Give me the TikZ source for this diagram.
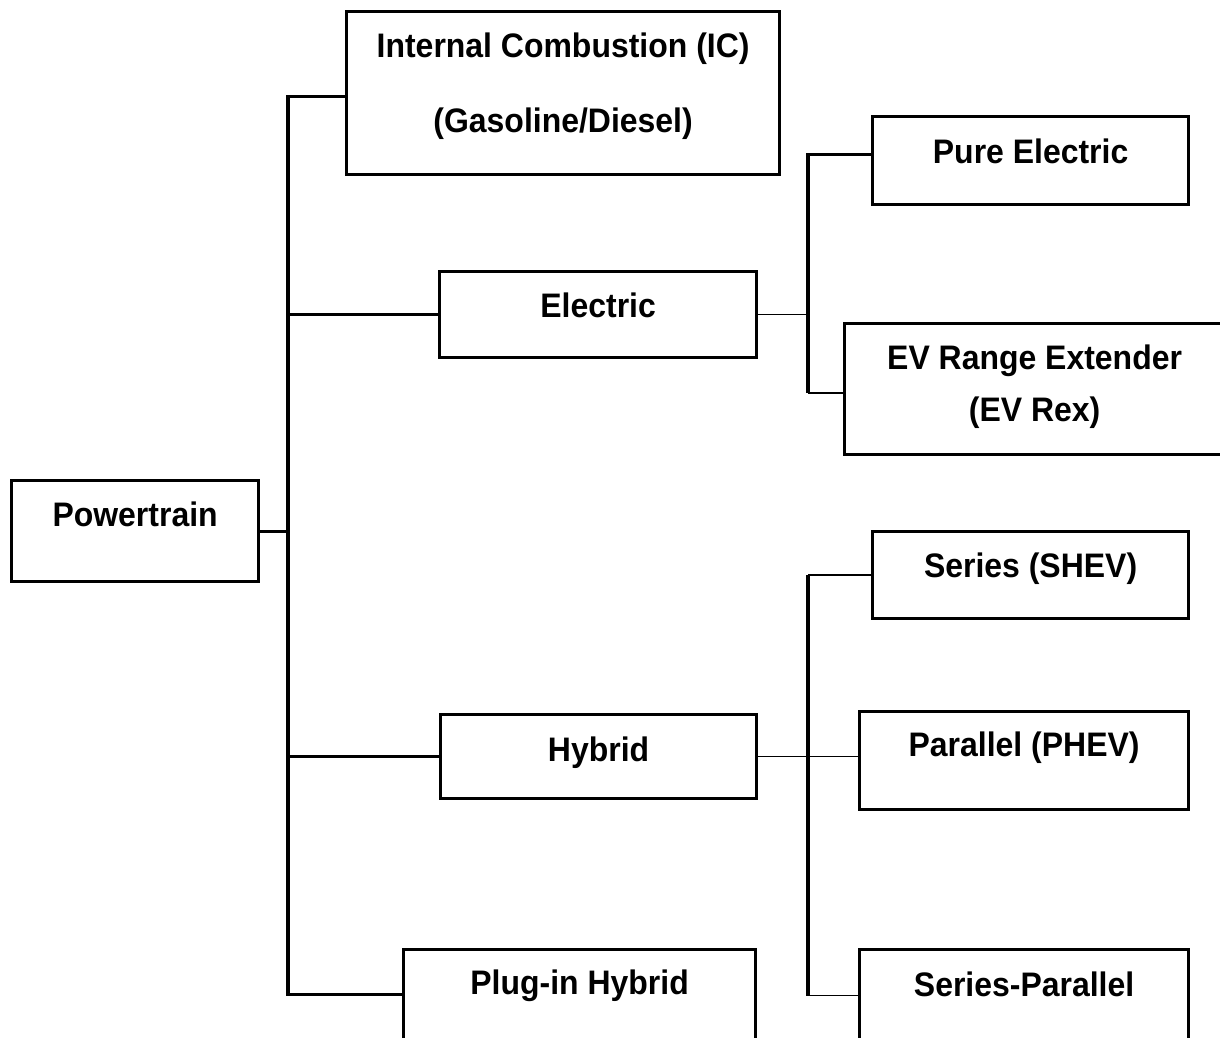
\documentclass[tikz,border=0pt]{standalone}
\usepackage{fontspec}
\newfontfamily\boxfont{Liberation Sans}[FakeStretch=0.94]
\usetikzlibrary{positioning}

\begin{document}
\begin{tikzpicture}[x=1pt, y=-1pt,
    box/.style={draw, line width=3.2pt, inner sep=0pt, anchor=north west, align=center,
                font=\boxfont\bfseries\fontsize{34}{41}\selectfont},
    heavy/.style={line width=3.2pt},
    light/.style={line width=1.5pt}]
  \useasboundingbox (0,0) rectangle (1220,1037);
  \clip (0,0) rectangle (1220,1037);

  \node[box, minimum width=247pt, minimum height=101pt, text height=46pt, text depth=55pt] (pt) at (10, 479) {Powertrain};
  \node[box, minimum width=433pt, minimum height=163pt, text height=121pt, text depth=42pt] (ic) at (345, 10) {Internal Combustion (IC)\\[34pt](Gasoline/Diesel)};
  \node[box, minimum width=317pt, minimum height=86pt, text height=46pt, text depth=40pt] (elec) at (438, 270) {Electric};
  \node[box, minimum width=316pt, minimum height=84pt, text height=47pt, text depth=37pt] (hyb) at (439, 713) {Hybrid};
  \node[box, minimum width=352pt, minimum height=90pt, text height=45pt, text depth=45pt] (plug) at (402, 948) {Plug-in Hybrid};
  \node[box, minimum width=316pt, minimum height=88pt, text height=47pt, text depth=41pt] (pure) at (871, 115) {Pure Electric};
  \node[box, minimum width=380pt, minimum height=131pt, text height=98pt, text depth=33pt] (evrex) at (843, 322) {EV Range Extender\\[11pt](EV Rex)};
  \node[box, minimum width=316pt, minimum height=87pt, text height=46pt, text depth=41pt] (shev) at (871, 530) {Series (SHEV)};
  \node[box, minimum width=329pt, minimum height=98pt, text height=45pt, text depth=53pt] (par) at (858, 710) {Parallel (PHEV)};
  \node[box, minimum width=329pt, minimum height=92pt, text height=47pt, text depth=45pt] (serpar) at (858, 948) {Series-Parallel};

  \coordinate (trunk) at (288, 0);
  \coordinate (fork) at (808, 0);
  \coordinate (icin) at ([yshift=-3pt]ic.west);
  \coordinate (purein) at ([yshift=6pt]pure.west);
  \coordinate (rexin) at ([yshift=-4pt]evrex.west);

  \draw[heavy] (pt.east) -- (pt.east -| trunk);
  \draw[heavy] (icin) -| (trunk |- plug.west) -- (plug.west);
  \draw[heavy] (trunk |- elec.west) -- (elec.west);
  \draw[heavy] (trunk |- hyb.west) -- (hyb.west);

  \draw[light] (elec.east) -- (elec.east -| fork);
  \draw[heavy] (purein) -| (fork |- rexin);
  \draw[light] (fork |- rexin) -- (rexin);

  \draw[light] (hyb.east) -- (hyb.east -| par.west);
  \draw[heavy] (fork |- shev.west) -- (fork |- serpar.west);
  \draw[light] (fork |- shev.west) -- (shev.west);
  \draw[light] (fork |- serpar.west) -- (serpar.west);
\end{tikzpicture}
\end{document}
